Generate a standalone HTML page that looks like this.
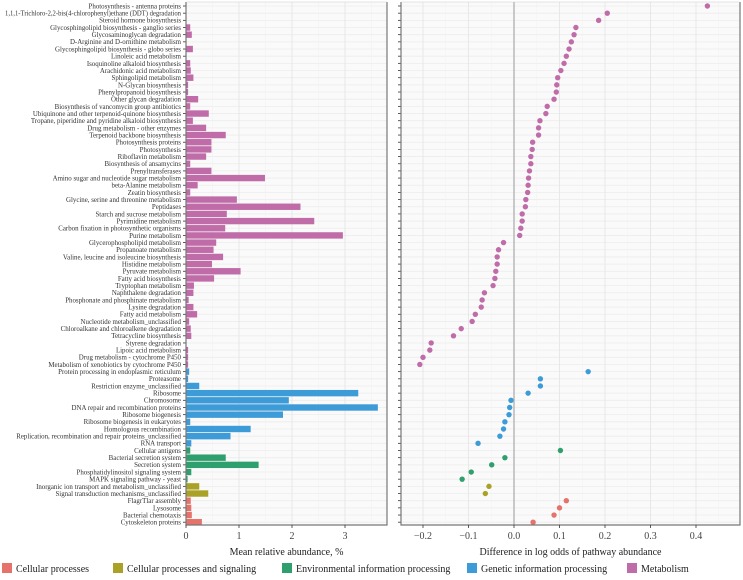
<!DOCTYPE html>
<html><head><meta charset="utf-8"><style>
body{margin:0;background:#fff;width:743px;height:575px;overflow:hidden}
svg{font-family:"Liberation Serif",serif}
</style></head><body>
<svg id="c" width="743" height="575"></svg>
<script>
const categories=["Photosynthesis - antenna proteins","1,1,1-Trichloro-2,2-bis(4-chlorophenyl)ethane (DDT) degradation","Steroid hormone biosynthesis","Glycosphingolipid biosynthesis - ganglio series","Glycosaminoglycan degradation","D-Arginine and D-ornithine metabolism","Glycosphingolipid biosynthesis - globo series","Linoleic acid metabolism","Isoquinoline alkaloid biosynthesis","Arachidonic acid metabolism","Sphingolipid metabolism","N-Glycan biosynthesis","Phenylpropanoid biosynthesis","Other glycan degradation","Biosynthesis of vancomycin group antibiotics","Ubiquinone and other terpenoid-quinone biosynthesis","Tropane, piperidine and pyridine alkaloid biosynthesis","Drug metabolism - other enzymes","Terpenoid backbone biosynthesis","Photosynthesis proteins","Photosynthesis","Riboflavin metabolism","Biosynthesis of ansamycins","Prenyltransferases","Amino sugar and nucleotide sugar metabolism","beta-Alanine metabolism","Zeatin biosynthesis","Glycine, serine and threonine metabolism","Peptidases","Starch and sucrose metabolism","Pyrimidine metabolism","Carbon fixation in photosynthetic organisms","Purine metabolism","Glycerophospholipid metabolism","Propanoate metabolism","Valine, leucine and isoleucine biosynthesis","Histidine metabolism","Pyruvate metabolism","Fatty acid biosynthesis","Tryptophan metabolism","Naphthalene degradation","Phosphonate and phosphinate metabolism","Lysine degradation","Fatty acid metabolism","Nucleotide metabolism_unclassified","Chloroalkane and chloroalkene degradation","Tetracycline biosynthesis","Styrene degradation","Lipoic acid metabolism","Drug metabolism - cytochrome P450","Metabolism of xenobiotics by cytochrome P450","Protein processing in endoplasmic reticulum","Proteasome","Restriction enzyme_unclassified","Ribosome","Chromosome","DNA repair and recombination proteins","Ribosome biogenesis","Ribosome biogenesis in eukaryotes","Homologous recombination","Replication, recombination and repair proteins_unclassified","RNA transport","Cellular antigens","Bacterial secretion system","Secretion system","Phosphatidylinositol signaling system","MAPK signaling pathway - yeast","Inorganic ion transport and metabolism_unclassified","Signal transduction mechanisms_unclassified","FlagrTlar assembly","Lysosome","Bacterial chemotaxis","Cytoskeleton proteins"];
const groups=[4,4,4,4,4,4,4,4,4,4,4,4,4,4,4,4,4,4,4,4,4,4,4,4,4,4,4,4,4,4,4,4,4,4,4,4,4,4,4,4,4,4,4,4,4,4,4,4,4,4,4,3,3,3,3,3,3,3,3,3,3,3,2,2,2,2,2,1,1,0,0,0,0];
const abundance=[0.01,0.005,0.01,0.08,0.11,0.01,0.13,0.01,0.08,0.09,0.14,0.04,0.04,0.23,0.08,0.43,0.13,0.38,0.75,0.48,0.48,0.38,0.08,0.48,1.49,0.22,0.08,0.96,2.16,0.77,2.42,0.74,2.96,0.57,0.52,0.70,0.49,1.03,0.53,0.15,0.14,0.05,0.14,0.21,0.06,0.09,0.10,0.005,0.04,0.04,0.04,0.06,0.04,0.25,3.25,1.94,3.62,1.83,0.08,1.22,0.84,0.10,0.08,0.75,1.37,0.10,0.03,0.25,0.42,0.09,0.10,0.11,0.30];
const logOdds=[0.425,0.205,0.186,0.136,0.132,0.126,0.121,0.115,0.110,0.103,0.096,0.094,0.093,0.088,0.073,0.070,0.057,0.054,0.054,0.041,0.040,0.037,0.037,0.034,0.032,0.031,0.030,0.026,0.025,0.018,0.018,0.015,0.0125,-0.023,-0.034,-0.037,-0.037,-0.040,-0.042,-0.046,-0.065,-0.070,-0.072,-0.085,-0.092,-0.116,-0.133,-0.182,-0.185,-0.200,-0.207,0.163,0.058,0.058,0.031,-0.0066,-0.0095,-0.011,-0.020,-0.023,-0.031,-0.079,0.102,-0.020,-0.049,-0.094,-0.114,-0.055,-0.063,0.115,0.100,0.088,0.042];
const groupNames=["Cellular processes","Cellular processes and signaling","Environmental information processing","Genetic information processing","Metabolism"];
const groupColors=["#e5736b","#a9a227","#2f9f6d","#3d9bd8","#c06ca8"];
const leftTicks=[0,1,2,3];
const rightTicks=[-0.2,-0.1,0.0,0.1,0.2,0.3,0.4];
const rightTickLabels=["\u22120.2","\u22120.1","0.0","0.1","0.2","0.3","0.4"];

const NS="http://www.w3.org/2000/svg";
const svg=document.getElementById('c');
function mk(tag,attrs,parent){const e=document.createElementNS(NS,tag);for(const k in attrs)e.setAttribute(k,attrs[k]);(parent||svg).appendChild(e);return e;}
const pTop=2,bot=525;
const yRow=i=>6+i*(516.2/(categories.length-1));
const L0=186,L1=387,xL=v=>L0+v*53;
const R0=401,R1=740,xR=v=>514+v*455;

const lp=mk('g',{});
mk('rect',{x:L0,y:pTop,width:L1-L0,height:bot-pTop,fill:'#fafafa'},lp);
const rp=mk('g',{});
mk('rect',{x:R0,y:pTop,width:R1-R0,height:bot-pTop,fill:'#fafafa'},rp);
categories.forEach((c,i)=>{
 mk('line',{x1:L0,x2:L1,y1:yRow(i),y2:yRow(i),stroke:'#ececec','stroke-width':0.8},lp);
 mk('line',{x1:R0,x2:R1,y1:yRow(i),y2:yRow(i),stroke:'#ececec','stroke-width':0.8},rp);
});
[0.5,1.5,2.5,3.5].forEach(v=>mk('line',{x1:xL(v),x2:xL(v),y1:pTop,y2:bot,stroke:'#f2f2f2','stroke-width':0.6},lp));
leftTicks.forEach(v=>mk('line',{x1:xL(v),x2:xL(v),y1:pTop,y2:bot,stroke:'#e6e6e6','stroke-width':0.9},lp));
[-0.15,-0.05,0.05,0.15,0.25,0.35,0.45].forEach(v=>mk('line',{x1:xR(v),x2:xR(v),y1:pTop,y2:bot,stroke:'#f2f2f2','stroke-width':0.6},rp));
rightTicks.forEach(v=>mk('line',{x1:xR(v),x2:xR(v),y1:pTop,y2:bot,stroke:'#e6e6e6','stroke-width':0.9},rp));
mk('line',{x1:xR(0),x2:xR(0),y1:pTop,y2:bot,stroke:'#bdbdbd','stroke-width':1.6},rp);

categories.forEach((c,i)=>{
 const b=mk('rect',{x:L0,y:yRow(i)-3.2,width:Math.max(0,xL(abundance[i])-L0),height:6.4,fill:groupColors[groups[i]]},lp);
 
 
 const lb=mk('text',{x:181,y:yRow(i)+2.4,'font-size':'6.9','text-anchor':'end',fill:'#333'});
 lb.textContent=c;
 
 
 if(lb.getComputedTextLength()>176){lb.setAttribute('textLength','176');lb.setAttribute('lengthAdjust','spacingAndGlyphs');}
 mk('line',{x1:183,x2:L0,y1:yRow(i),y2:yRow(i),stroke:'#333','stroke-width':0.8});
 mk('line',{x1:R0-3,x2:R0,y1:yRow(i),y2:yRow(i),stroke:'#333','stroke-width':0.8});
 const d=mk('circle',{cx:xR(logOdds[i]),cy:yRow(i),r:2.7,fill:groupColors[groups[i]]},rp);
 
 
});
mk('polyline',{points:`${L0},${pTop} ${L0},${bot} ${L1},${bot} ${L1},${pTop}`,fill:'none',stroke:'#777','stroke-width':1.2});
mk('polyline',{points:`${R0},${pTop} ${R0},${bot} ${R1},${bot} ${R1},${pTop}`,fill:'none',stroke:'#777','stroke-width':1.2});
mk('line',{x1:L0,x2:L1,y1:pTop,y2:pTop,stroke:'#ccc','stroke-width':0.6});
mk('line',{x1:R0,x2:R1,y1:pTop,y2:pTop,stroke:'#ccc','stroke-width':0.6});
leftTicks.forEach(v=>{
 mk('line',{x1:xL(v),x2:xL(v),y1:bot,y2:bot+3,stroke:'#333','stroke-width':0.8});
 const t=mk('text',{x:xL(v),y:bot+14,'font-size':'10','text-anchor':'middle',fill:'#444'});t.textContent=v;
 
 
});
rightTicks.forEach((v,k)=>{
 mk('line',{x1:xR(v),x2:xR(v),y1:bot,y2:bot+3,stroke:'#333','stroke-width':0.8});
 const t=mk('text',{x:xR(v),y:bot+14,'font-size':'10','text-anchor':'middle',fill:'#444'});t.textContent=rightTickLabels[k];
 
 
});
let t=mk('text',{x:(L0+L1)/2,y:555,'font-size':'10','text-anchor':'middle',fill:'#222'});t.textContent='Mean relative abundance, %';

t=mk('text',{x:(R0+R1)/2,y:555,'font-size':'10','text-anchor':'middle',fill:'#222'});t.textContent='Difference in log odds of pathway abundance';

const lx=[2,113,282,467,627];
groupNames.forEach((g,k)=>{
 const e=mk('g',{});
 
 
 mk('rect',{x:lx[k],y:563,width:10,height:10,fill:groupColors[k]},e);
 const tx=mk('text',{x:lx[k]+14,y:572,'font-size':'10',fill:'#222'},e);tx.textContent=g;
});
</script>
</body></html>
